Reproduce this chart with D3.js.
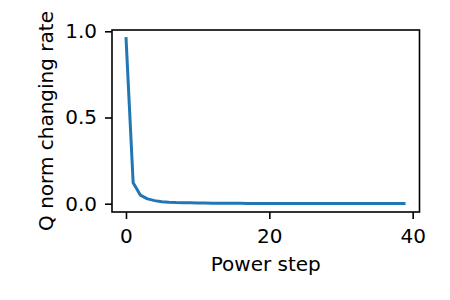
<!DOCTYPE html>
<html>
<head>
<meta charset="utf-8">
<script src="https://cdn.jsdelivr.net/npm/d3@7"></script>
<style>
  body { margin: 0; background: #fff; }
  text { font-family: "DejaVu Sans", sans-serif; fill: #000; }
</style>
</head>
<body>
<script>
// power step index 0..39 and the Q norm changing rate
const steps = d3.range(0, 40);
const rates = [0.966, 0.122, 0.050, 0.028, 0.018, 0.012, 0.009, 0.007, 0.006, 0.005,
               0.004, 0.0035, 0.003, 0.0028, 0.0025, 0.0023, 0.0021, 0.002, 0.0019, 0.0018,
               0.0017, 0.0016, 0.0015, 0.0015, 0.0014, 0.0014, 0.0013, 0.0013, 0.0012, 0.0012,
               0.0012, 0.0011, 0.0011, 0.0011, 0.001, 0.001, 0.001, 0.001, 0.001, 0.001];
const xTicks = [0, 20, 40];
const yTicks = [0.0, 0.5, 1.0];

const width = 450, height = 300;
const box = {left: 112, top: 30, right: 419.5, bottom: 212};

const svg = d3.select('body').append('svg')
    .attr('width', width)
    .attr('height', height);

const x = d3.scaleLinear()
    .domain([-1.95, 40.95])
    .range([box.left, box.right]);

const y = d3.scaleLinear()
    .domain([-0.048, 1.0075])
    .range([box.bottom, box.top]);

const xAxis = svg.append('g')
    .attr('transform', `translate(0,${box.bottom})`)
    .call(d3.axisBottom(x).tickValues(xTicks).tickFormat(d3.format('d')).tickSize(7).tickPadding(10).tickSizeOuter(0));

const yAxis = svg.append('g')
    .attr('transform', `translate(${box.left},0)`)
    .call(d3.axisLeft(y).tickValues(yTicks).tickFormat(d3.format('.1f')).tickSize(7).tickPadding(8).tickSizeOuter(0));

[xAxis, yAxis].forEach(g => {
  g.select('.domain').remove();
  g.selectAll('line').attr('stroke', '#000').attr('stroke-width', 1.6);
  g.selectAll('text').attr('font-size', 20).attr('font-family', '"DejaVu Sans", sans-serif');
});

// frame
svg.append('rect')
    .attr('x', box.left)
    .attr('y', box.top)
    .attr('width', box.right - box.left)
    .attr('height', box.bottom - box.top)
    .attr('fill', 'none')
    .attr('stroke', '#000')
    .attr('stroke-width', 1.6);

const line = d3.line()
    .x((d, i) => x(steps[i]))
    .y(d => y(d));

svg.append('path')
    .datum(rates)
    .attr('fill', 'none')
    .attr('stroke', '#1f77b4')
    .attr('stroke-width', 3)
    .attr('stroke-linejoin', 'round')
    .attr('d', line);

svg.append('text')
    .attr('x', (box.left + box.right) / 2)
    .attr('y', 271)
    .attr('text-anchor', 'middle')
    .attr('font-size', 20)
    .text('Power step');

svg.append('text')
    .attr('transform', `translate(53,${(box.top + box.bottom) / 2}) rotate(-90)`)
    .attr('text-anchor', 'middle')
    .attr('font-size', 20)
    .text('Q norm changing rate');
</script>
</body>
</html>
